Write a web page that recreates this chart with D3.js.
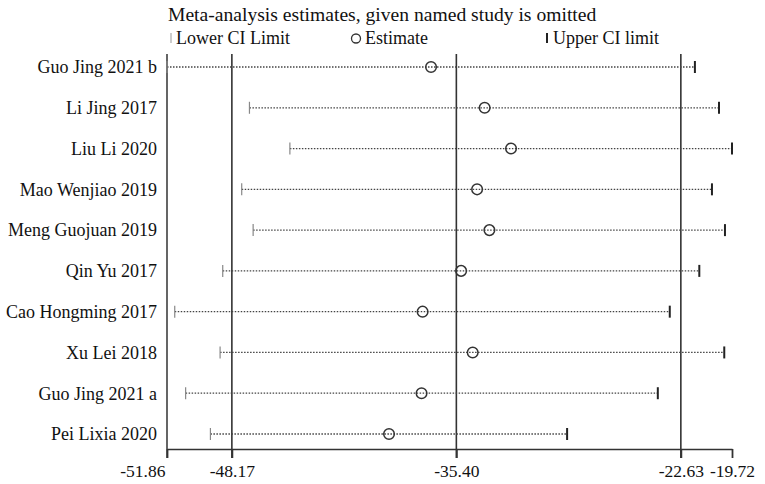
<!DOCTYPE html>
<html>
<head>
<meta charset="utf-8">
<script src="https://cdn.jsdelivr.net/npm/d3@7"></script>
<style>
  body { margin: 0; background: #fff; }
  svg { display: block; font-family: "Liberation Serif", "Times New Roman", serif; }
</style>
</head>
<body>
<svg id="chart"></svg>
<script>
// Leave-one-out sensitivity data
const studies = [
    'Guo Jing 2021 b', 'Li Jing 2017', 'Liu Li 2020', 'Mao Wenjiao 2019',
    'Meng Guojuan 2019', 'Qin Yu 2017', 'Cao Hongming 2017', 'Xu Lei 2018',
    'Guo Jing 2021 a', 'Pei Lixia 2020'
];
const estimates = [-36.84, -33.79, -32.29, -34.22, -33.52, -35.13, -37.32, -34.47, -37.38, -39.23];
const lowerCI = [-51.86, -47.17, -44.87, -47.61, -46.96, -48.69, -51.42, -48.84, -50.80, -49.39];
const upperCI = [-21.83, -20.46, -19.72, -20.86, -20.12, -21.58, -23.26, -20.16, -23.94, -29.10];
const tickValues = [-51.86, -48.17, -35.40, -22.63, -19.72];
const refLines = [-48.17, -35.40, -22.63];

const width = 765;
const height = 484;

const svg = d3.select('#chart')
    .attr('width', width)
    .attr('height', height);

// Scales
const x = d3.scaleLinear()
    .domain([-51.86, -19.72])
    .range([167, 732]);

const y = d3.scalePoint()
    .domain(studies)
    .range([67, 434]);

const axisY = 449;
const topY = 54;

// Title and legend
svg.append('text')
    .attr('x', 168)
    .attr('y', 21)
    .attr('font-size', 19.6)
    .attr('fill', '#111')
    .text('Meta-analysis estimates, given named study is omitted');

const legend = svg.append('g').attr('font-size', 18).attr('fill', '#111');
legend.append('line')
    .attr('x1', 171).attr('x2', 171).attr('y1', 33).attr('y2', 43)
    .attr('stroke', '#999').attr('stroke-width', 1);
legend.append('text').attr('x', 176).attr('y', 44).text('Lower CI Limit');
legend.append('circle')
    .attr('cx', 356).attr('cy', 38.5).attr('r', 4.5)
    .attr('fill', 'none').attr('stroke', '#333').attr('stroke-width', 1.3);
legend.append('text').attr('x', 365).attr('y', 44).text('Estimate');
legend.append('line')
    .attr('x1', 547).attr('x2', 547).attr('y1', 33).attr('y2', 43)
    .attr('stroke', '#222').attr('stroke-width', 2);
legend.append('text').attr('x', 553).attr('y', 44).text('Upper CI limit');

// Left frame line and reference lines
svg.append('line')
    .attr('x1', x(-51.86)).attr('x2', x(-51.86))
    .attr('y1', topY).attr('y2', axisY + 9)
    .attr('stroke', '#555').attr('stroke-width', 1.8);

svg.selectAll('.ref')
    .data(refLines)
    .enter()
    .append('line')
    .attr('class', 'ref')
    .attr('x1', d => x(d)).attr('x2', d => x(d))
    .attr('y1', topY).attr('y2', axisY + 9)
    .attr('stroke', '#333').attr('stroke-width', 1.6);

// Axis
const axis = d3.axisBottom(x)
    .tickValues(tickValues)
    .tickSize(9)
    .tickSizeOuter(0)
    .tickFormat(d => d.toFixed(2));

const axisG = svg.append('g')
    .attr('transform', `translate(0,${axisY})`)
    .call(axis);

axisG.select('.domain').attr('stroke', '#333').attr('stroke-width', 1.6);
axisG.selectAll('.tick line').attr('stroke', '#333').attr('stroke-width', 1.8);
axisG.selectAll('.tick text')
    .attr('font-family', '"Liberation Serif", "Times New Roman", serif')
    .attr('font-size', 17.5)
    .attr('fill', '#111')
    .attr('y', 16);
// first label is pushed left of its tick, as in the original
axisG.selectAll('.tick')
    .filter(d => d === -51.86)
    .select('text')
    .attr('text-anchor', 'end')
    .attr('x', -2);

// Study labels
svg.selectAll('.study')
    .data(studies)
    .enter()
    .append('text')
    .attr('class', 'study')
    .attr('x', 157)
    .attr('y', d => y(d))
    .attr('dy', '0.35em')
    .attr('text-anchor', 'end')
    .attr('font-size', 18)
    .attr('fill', '#111')
    .text(d => d);

// Rows
const rows = svg.selectAll('.row')
    .data(studies.map((s, i) => ({ s, est: estimates[i], lo: lowerCI[i], hi: upperCI[i] })))
    .enter()
    .append('g')
    .attr('class', 'row')
    .attr('transform', d => `translate(0,${y(d.s)})`);

rows.append('line')
    .attr('x1', d => x(d.lo)).attr('x2', d => x(d.hi))
    .attr('stroke', '#444')
    .attr('stroke-width', 1.3)
    .attr('stroke-dasharray', '1.5,1.5');

rows.append('line')
    .attr('x1', d => x(d.lo)).attr('x2', d => x(d.lo))
    .attr('y1', -6).attr('y2', 6)
    .attr('stroke', '#888').attr('stroke-width', 1.2);

rows.append('line')
    .attr('x1', d => x(d.hi)).attr('x2', d => x(d.hi))
    .attr('y1', -6).attr('y2', 6)
    .attr('stroke', '#222').attr('stroke-width', 2);

rows.append('circle')
    .attr('cx', d => x(d.est))
    .attr('r', 5.3)
    .attr('fill', 'none')
    .attr('stroke', '#333')
    .attr('stroke-width', 1.5);
</script>
</body>
</html>
